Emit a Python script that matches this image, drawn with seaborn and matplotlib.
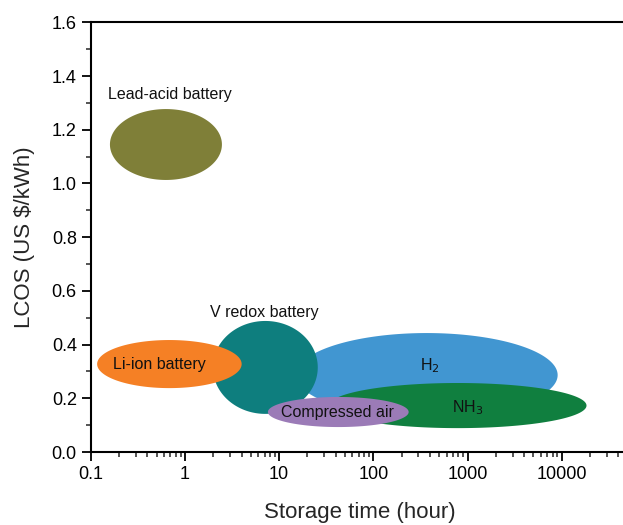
import matplotlib
matplotlib.use("Agg")
import matplotlib.pyplot as plt
import numpy as np
import seaborn as sns

# Storage technologies: bounding ranges
TECH = ["H$_2$", "V redox battery", "Li-ion battery", "Lead-acid battery",
        "NH$_3$", "Compressed air"]
T_MIN = [15, 1.98, 0.117, 0.16, 33.7, 7.6]      # storage time, hours
T_MAX = [9040, 25.7, 4.0, 2.47, 18300, 237]
C_MIN = [0.13, 0.142, 0.238, 1.013, 0.089, 0.093]  # LCOS, US $/kWh
C_MAX = [0.443, 0.488, 0.417, 1.277, 0.257, 0.205]
COLORS = ["#4196d1", "#0e7e7e", "#f58025", "#7f7f38", "#107f3f", "#9b7bb7"]

# label placement (x hours, y LCOS)
LABEL_X = [396, 7.0, 0.53, 0.69, 1000, 42]
LABEL_Y = [0.32, 0.518, 0.325, 1.33, 0.164, 0.149]

sns.set_theme(style="ticks")
plt.rcParams["font.family"] = ["Liberation Sans", "DejaVu Sans"]

fig = plt.figure(figsize=(6.23, 5.25), dpi=100)
ax = fig.add_axes([0.1456, 0.139, 0.8544 + 0.01, 0.8185])

t = np.linspace(0, 2 * np.pi, 400)
for i in range(len(TECH)):
    lo, hi = np.log10(T_MIN[i]), np.log10(T_MAX[i])
    xc, a = (lo + hi) / 2, (hi - lo) / 2
    yc, b = (C_MIN[i] + C_MAX[i]) / 2, (C_MAX[i] - C_MIN[i]) / 2
    ax.fill(10 ** (xc + a * np.cos(t)), yc + b * np.sin(t),
            color=COLORS[i], lw=0, zorder=2 + i)
    ax.text(LABEL_X[i], LABEL_Y[i], TECH[i], ha="center", va="center",
            fontsize=11.5, color="#111111", zorder=10)

ax.set_xscale("log")
ax.set_xlim(0.1, 5.2e4)
ax.set_ylim(0, 1.6)
ax.set_xticks([0.1, 1, 10, 100, 1000, 10000])
ax.set_xticklabels(["0.1", "1", "10", "100", "1000", "10000"])
ax.set_yticks(np.arange(0, 1.61, 0.2))
ax.set_yticklabels([f"{v:.1f}" for v in np.arange(0, 1.61, 0.2)])
ax.yaxis.set_minor_locator(matplotlib.ticker.MultipleLocator(0.1))
ax.xaxis.set_minor_locator(matplotlib.ticker.LogLocator(base=10, subs=np.arange(2, 10)))
ax.xaxis.set_minor_formatter(matplotlib.ticker.NullFormatter())

ax.tick_params(which="major", direction="out", length=6.5, width=1.3,
               labelsize=13, colors="black")
ax.tick_params(which="minor", direction="out", length=3.5, width=1.1)
for s in ("left", "bottom", "top"):
    ax.spines[s].set_linewidth(1.5)
    ax.spines[s].set_color("black")
ax.spines["right"].set_visible(False)

ax.set_xlabel("Storage time (hour)", fontsize=16, labelpad=14)
ax.set_ylabel("LCOS (US $/kWh)", fontsize=16, labelpad=12)

fig.savefig("out.png", dpi=100)
